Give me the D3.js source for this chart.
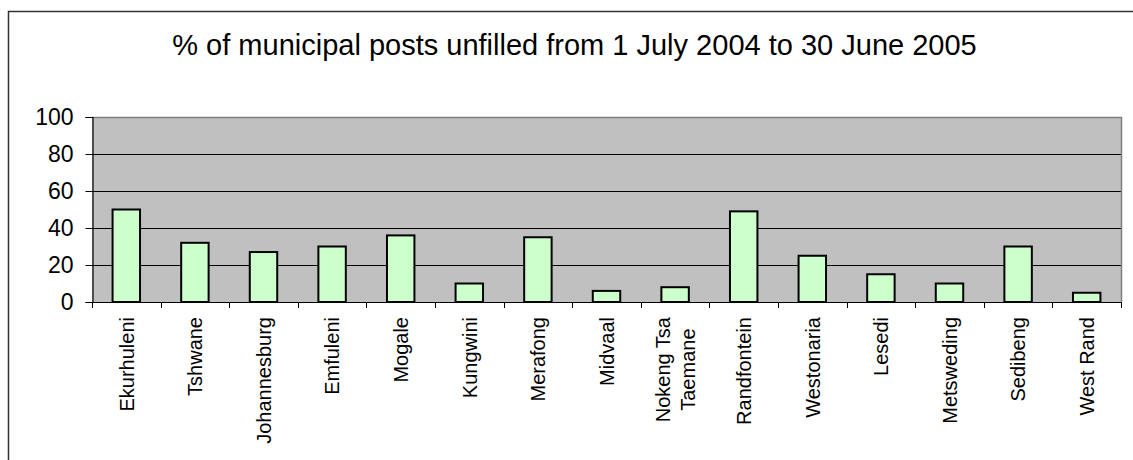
<!DOCTYPE html>
<html>
<head>
<meta charset="utf-8">
<script src="https://cdn.jsdelivr.net/npm/d3@7"></script>
<style>
  html, body { margin: 0; padding: 0; background: #fff; }
  svg { display: block; font-family: "Liberation Sans", Arial, sans-serif; }
</style>
</head>
<body>
<svg id="chart" width="1133" height="460"></svg>
<script>
// Municipalities (label lines) and percentage of unfilled posts
const municipalities = [
  ["Ekurhuleni"], ["Tshwane"], ["Johannesburg"], ["Emfuleni"], ["Mogale"],
  ["Kungwini"], ["Merafong"], ["Midvaal"], ["Nokeng Tsa", "Taemane"], ["Randfontein"],
  ["Westonaria"], ["Lesedi"], ["Metsweding"], ["Sedibeng"], ["West Rand"]
];
const unfilledPct = [50, 32, 27, 30, 36, 10, 35, 6, 8, 49, 25, 15, 10, 30, 5];
const yTicks = [0, 20, 40, 60, 80, 100];
const titleText = "% of municipal posts unfilled from 1 July 2004 to 30 June 2005";

const svg = d3.select("#chart");
const plot = { left: 92, right: 1121, top: 117, bottom: 302 };

// Outer chart frame
svg.append("rect")
  .attr("x", 8.5).attr("y", 11.5)
  .attr("width", 1133).attr("height", 470)
  .attr("fill", "#fff").attr("stroke", "#333").attr("stroke-width", 1.5);

// Title
svg.append("text")
  .attr("x", 574.5).attr("y", 54.5)
  .attr("text-anchor", "middle")
  .attr("font-size", 29)
  .attr("fill", "#000")
  .text(titleText);

const keys = municipalities.map((d, i) => i);
const x = d3.scaleBand().domain(keys).range([plot.left, plot.right]).padding(0);
const y = d3.scaleLinear().domain([0, 100]).range([plot.bottom, plot.top]);

// Plot area background
svg.append("rect")
  .attr("x", plot.left).attr("y", plot.top)
  .attr("width", plot.right - plot.left).attr("height", plot.bottom - plot.top)
  .attr("fill", "#c0c0c0");

// Horizontal gridlines
svg.append("g")
  .selectAll("line")
  .data(yTicks.filter(t => t > 0 && t < 100))
  .join("line")
  .attr("x1", plot.left).attr("x2", plot.right)
  .attr("y1", d => Math.round(y(d)) + 0.5).attr("y2", d => Math.round(y(d)) + 0.5)
  .attr("stroke", "#000").attr("stroke-width", 1);

// Plot area border (top and right)
svg.append("path")
  .attr("d", `M${plot.left},${plot.top + 0.5}H${plot.right + 0.5}V${plot.bottom}`)
  .attr("fill", "none").attr("stroke", "#808080").attr("stroke-width", 1.5);

// Bars
const barW = x.bandwidth() * 0.4;
svg.append("g")
  .selectAll("rect")
  .data(unfilledPct)
  .join("rect")
  .attr("x", (d, i) => x(i) + (x.bandwidth() - barW) / 2)
  .attr("y", d => y(d))
  .attr("width", barW)
  .attr("height", d => y(0) - y(d))
  .attr("fill", "#ccffcc")
  .attr("stroke", "#000")
  .attr("stroke-width", 2);

// Y axis
const yAxis = d3.axisLeft(y).tickValues(yTicks).tickSize(7).tickPadding(12);
const gy = svg.append("g")
  .attr("transform", `translate(${plot.left + 0.5},0)`)
  .call(yAxis);
gy.select(".domain").attr("stroke", "#000").attr("stroke-width", 1.2);
gy.selectAll(".tick line").attr("stroke", "#000");
gy.selectAll(".tick text")
  .attr("font-size", 23)
  .attr("font-family", "Liberation Sans, Arial, sans-serif")
  .attr("fill", "#000");

// X axis line with tick marks at category boundaries
const gx = svg.append("g");
gx.append("line")
  .attr("x1", plot.left).attr("x2", plot.right + 1)
  .attr("y1", plot.bottom + 0.5).attr("y2", plot.bottom + 0.5)
  .attr("stroke", "#000").attr("stroke-width", 1.2);
const boundaries = keys.map(k => x(k)).concat([plot.right]);
gx.selectAll("line.tk")
  .data(boundaries)
  .join("line")
  .attr("class", "tk")
  .attr("x1", d => Math.round(d) + 0.5).attr("x2", d => Math.round(d) + 0.5)
  .attr("y1", plot.bottom).attr("y2", plot.bottom + 6)
  .attr("stroke", "#000");

// Rotated category labels
const lineH = 25;
const labels = svg.append("g")
  .selectAll("text")
  .data(municipalities)
  .join("text")
  .attr("font-size", 20)
  .attr("fill", "#000")
  .attr("text-anchor", "middle")
  .attr("transform", (d, i) => {
    const cx = x(i) + x.bandwidth() / 2;
    return `translate(${cx},${plot.bottom}) rotate(-90)`;
  });

labels.each(function(lines) {
  const t = d3.select(this);
  const n = lines.length;
  // measure longest line so the block's top aligns just below the axis
  const tmp = t.append("tspan").text(lines.reduce((a, b) => a.length >= b.length ? a : b));
  const w = d3.max(lines.map(l => { tmp.text(l); return tmp.node().getComputedTextLength(); }));
  tmp.remove();
  const centerX = -(15 + w / 2);
  lines.forEach((l, j) => {
    const off = (j - (n - 1) / 2) * lineH;
    t.append("tspan")
      .attr("x", centerX)
      .attr("y", off)
      .attr("dy", "0.36em")
      .text(l);
  });
});
</script>
</body>
</html>
